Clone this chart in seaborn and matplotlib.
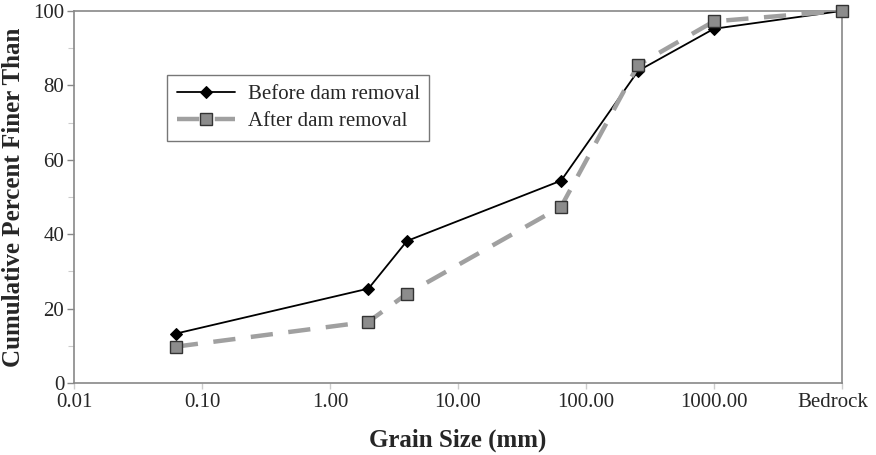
import matplotlib
matplotlib.use("Agg")
import matplotlib.pyplot as plt
import matplotlib.transforms as mtransforms
import seaborn as sns
import pandas as pd
from matplotlib.ticker import FixedLocator, MultipleLocator, NullLocator

grain_size = [0.0625, 2, 4, 64, 256, 1000, 10000]
before = [13.3, 25.4, 38.2, 54.4, 83.9, 95.2, 100]
after = [9.8, 16.5, 24.0, 47.4, 85.5, 97.2, 100]
tick_values = [0.01, 0.1, 1, 10, 100, 1000, 10000]
tick_labels = ["0.01", "0.10", "1.00", "10.00", "100.00", "1000.00", "Bedrock"]

sns.set_style("white")
plt.rcParams["font.family"] = ["Liberation Serif", "DejaVu Serif"]

fig = plt.figure(figsize=(8.76, 4.55), dpi=100)
ax = fig.add_axes([0.0845, 0.158, 0.8765, 0.818])

df_b = pd.DataFrame({"x": grain_size, "y": before})
df_a = pd.DataFrame({"x": grain_size, "y": after})

sns.lineplot(data=df_a, x="x", y="y", ax=ax, color="#a0a0a0", lw=3.2,
             dashes=False, linestyle=(0, (5, 3.5)), marker="s", markersize=8,
             markerfacecolor="#8c8c8c", markeredgecolor="#333333",
             markeredgewidth=1.0, label="After dam removal", sort=False, zorder=3)
sns.lineplot(data=df_b, x="x", y="y", ax=ax, color="black", lw=1.3,
             marker="D", markersize=6.5, markerfacecolor="black",
             markeredgecolor="black", label="Before dam removal", sort=False, zorder=2)
for ln in ax.lines:
    ln.set_clip_on(False)

ax.set_xscale("log")
ax.set_xlim(0.01, 10000)
ax.set_ylim(0, 100)
ax.xaxis.set_major_locator(FixedLocator(tick_values))
ax.xaxis.set_minor_locator(NullLocator())
ax.set_xticklabels(tick_labels, fontsize=15)
ax.yaxis.set_major_locator(MultipleLocator(20))
ax.yaxis.set_minor_locator(MultipleLocator(10))
ax.tick_params(axis="y", labelsize=15, length=5, width=1, color="#888888", pad=2)
ax.tick_params(axis="y", which="minor", length=4, width=0.8, color="#cccccc")
ax.tick_params(axis="x", labelsize=15, length=4, width=1, color="#cccccc", pad=3)
ax.tick_params(left=True, bottom=True, which="both")

for s in ax.spines.values():
    s.set_color("#888888")
    s.set_linewidth(1.2)

ax.set_xlabel("Grain Size (mm)", fontsize=18, fontweight="bold", labelpad=12)
ax.set_ylabel("Cumulative Percent Finer Than", fontsize=18, fontweight="bold", labelpad=6)

handles, labels = ax.get_legend_handles_labels()
order = [1, 0]
leg = ax.legend([handles[i] for i in order], [labels[i] for i in order],
                loc="upper left", bbox_to_anchor=(0.108, 0.855), fontsize=15,
                frameon=True, fancybox=False, edgecolor="#555555",
                handlelength=2.8, handletextpad=0.6, borderpad=0.45,
                labelspacing=0.35)
leg.get_frame().set_linewidth(1.0)

# shift the "Bedrock" label slightly left, as in the reference
last_tick = ax.xaxis.get_major_ticks()[-1]
last_tick.label1.set_transform(last_tick.label1.get_transform() +
                               mtransforms.ScaledTranslation(-9 / 100, 0, fig.dpi_scale_trans))

fig.savefig("out.png", dpi=100)
